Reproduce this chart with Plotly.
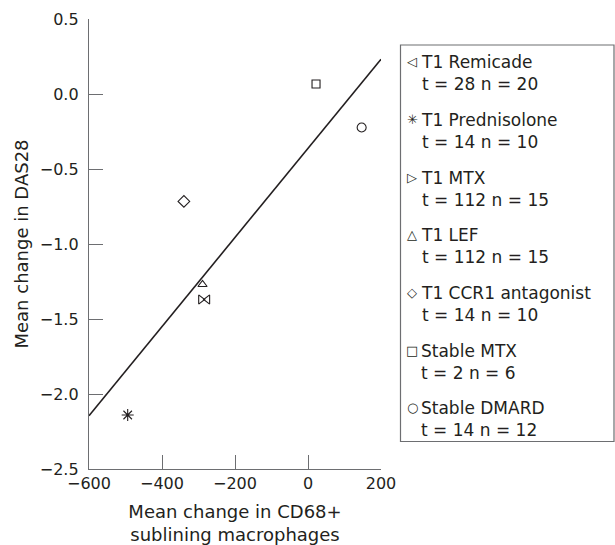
import plotly.graph_objects as go

# ---- data ----
groups = ["T1 Remicade", "T1 Prednisolone", "T1 MTX", "T1 LEF",
          "T1 CCR1 antagonist", "Stable MTX", "Stable DMARD"]
details = ["t = 28 n = 20", "t = 14 n = 10", "t = 112 n = 15", "t = 112 n = 15",
           "t = 14 n = 10", "t = 2 n = 6", "t = 14 n = 12"]
cd68_change = [-275, -494, -294, -289, -340, 22, 147]
das28_change = [-1.37, -2.14, -1.37, -1.27, -0.716, 0.067, -0.223]
symbols = ["triangle-left-open", "asterisk-open", "triangle-right-open", "triangle-up-open",
           "diamond-open", "square-open", "circle-open"]
legend_glyphs = ["◁", "✳", "▷", "△", "◇", "□", "○"]
fit_x = [-600, 200]
fit_y = [-2.145, 0.232]
x_ticks = [-600, -400, -200, 0, 200]
y_ticks = [-2.5, -2.0, -1.5, -1.0, -0.5, 0.0, 0.5]

# ---- layout geometry ----
W, H = 615, 545
L, R, T, B = 89, 234, 19, 76
PW, PH = W - L - R, H - T - B
FONT = "DejaVu Sans"
INK = "#231f20"
AXC = "#6d6e71"
sizes = [8, 10, 8, 8, 9, 8, 9]


def px(xp):
    return (xp - L) / PW


def py(yp):
    return (H - B - yp) / PH


fig = go.Figure()
fig.add_trace(go.Scatter(x=fit_x, y=fit_y, mode="lines",
                         line=dict(color=INK, width=1.6), showlegend=False,
                         hoverinfo="skip"))
for i, g in enumerate(groups):
    fig.add_trace(go.Scatter(
        x=[cd68_change[i]], y=[das28_change[i]], mode="markers", name=g,
        marker=dict(symbol=symbols[i], size=sizes[i], color=INK,
                    line=dict(color=INK, width=1.1)),
        showlegend=False))

annotations = []
shapes = [dict(type="rect", xref="paper", yref="paper",
               x0=px(400.5), x1=px(614), y0=py(441.5), y1=py(45),
               line=dict(color=AXC, width=1.2), fillcolor="white", layer="below")]
for i, g in enumerate(groups):
    y1 = 62 + i * 57.6
    annotations.append(dict(xref="paper", yref="paper", x=px(412), y=py(y1),
                            text=legend_glyphs[i], showarrow=False,
                            xanchor="center", yanchor="middle",
                            font=dict(family=FONT, size=13, color=INK)))
    annotations.append(dict(xref="paper", yref="paper", x=px(419), y=py(y1 - 11.5),
                            text=g + "<br>" + details[i], showarrow=False,
                            xanchor="left", yanchor="top", align="left",
                            font=dict(family=FONT, size=17, color=INK)))

fig.update_layout(
    width=W, height=H, margin=dict(l=L, r=R, t=T, b=B, autoexpand=False),
    paper_bgcolor="white", plot_bgcolor="white",
    font=dict(family=FONT, size=16, color=INK),
    shapes=shapes, annotations=annotations, showlegend=False,
    xaxis=dict(range=[-600, 200], tickvals=x_ticks, ticks="inside", ticklen=14,
               tickcolor=AXC, tickwidth=1.2, showline=True, linecolor=AXC, linewidth=1.4,
               showgrid=False, zeroline=False, ticklabelstandoff=0, automargin=False,
               title=dict(text="Mean change in CD68+<br>sublining macrophages",
                          font=dict(size=18), standoff=14)),
    yaxis=dict(range=[-2.5, 0.5], tickvals=y_ticks, tickformat=".1f", ticks="inside",
               ticklen=14, tickcolor=AXC, tickwidth=1.2, showline=True, linecolor=AXC,
               linewidth=1.4, showgrid=False, zeroline=False, ticklabelstandoff=6,
               automargin=False,
               title=dict(text="Mean change in DAS28", font=dict(size=18), standoff=6)),
)

fig.write_html("out.html", config={"displayModeBar": False},
               post_script="document.body.style.margin='0';")
